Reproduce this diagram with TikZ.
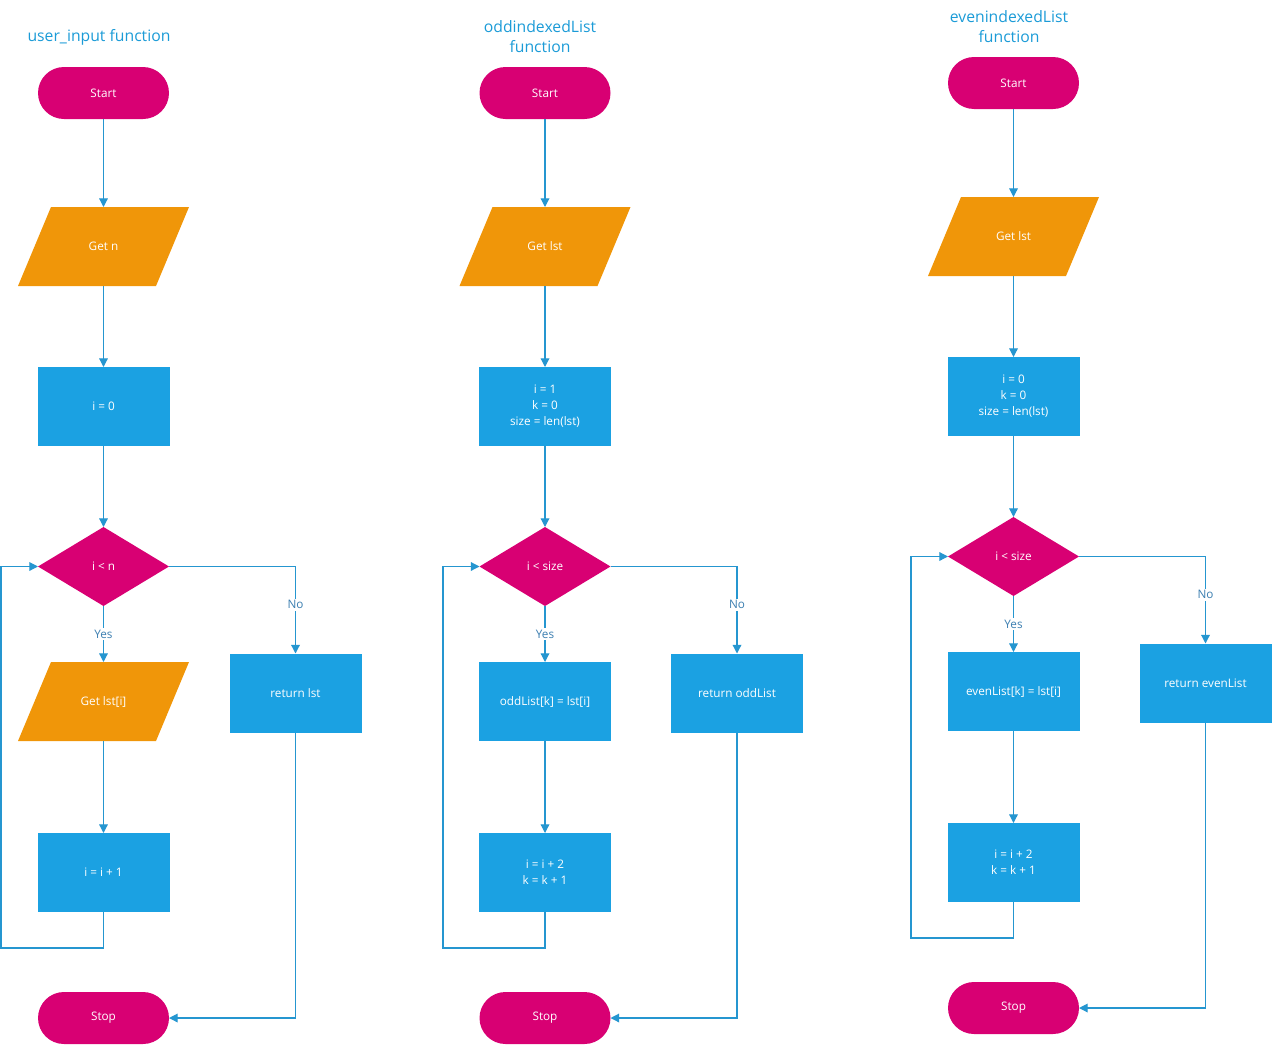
\documentclass[tikz,border=0pt]{standalone}
\usepackage{fontspec}
\setmainfont{Open Sans}
\usetikzlibrary{shapes.geometric,arrows.meta}
\definecolor{termcol}{HTML}{D80073}
\definecolor{iocol}{HTML}{F09609}
\definecolor{proccol}{HTML}{1BA1E2}
\definecolor{linecol}{HTML}{2596D0}
\definecolor{lblcol}{HTML}{3C7FB1}
\definecolor{titlecol}{HTML}{1B9BD7}
\tikzset{
  base/.style={inner sep=0pt, outer sep=0pt, text=white, font=\fontsize{8.8}{12}\selectfont, align=center},
  term/.style={base, fill=termcol, minimum width=98.25pt, minimum height=39pt, rounded corners=19.5pt},
  proc/.style={base, fill=proccol, minimum width=99pt, minimum height=59.25pt},
  dec/.style={base, diamond, fill=termcol, minimum width=98.25pt, minimum height=59.25pt},
  io/.style={base, minimum width=128.25pt, minimum height=59.25pt,
    path picture={\fill[iocol] ([xshift=24.75pt]path picture bounding box.north west)
      -- (path picture bounding box.north east)
      -- ([xshift=-24.75pt]path picture bounding box.south east)
      -- (path picture bounding box.south west) -- cycle;}},
  flow/.style={draw=linecol, line width=0.9pt, -{Triangle[length=6.5pt,width=6.5pt]}},
  lbl/.style={fill=white, text=lblcol, inner sep=1.5pt, font=\fontsize{8.8}{10}\selectfont},
  title/.style={text=titlecol, align=center, font=\fontsize{11.8}{15}\selectfont}
}
\begin{document}
\begin{tikzpicture}[x=0.75pt, y=-0.75pt]
\useasboundingbox (0,0) rectangle (1274,1046);

% ---------- user_input function ----------
\node[title] (t1) at (99,37) {user\_input function};
\node[term] (start1) at (103.5,93) {Start};
\node[io] (getn1) at (103.5,246.5) {Get n};
\node[proc] (init1) at (103.5,406.5) {i = 0};
\node[dec] (dec1) at (103.5,566.5) {i < n};
\node[io] (getl1) at (103.5,701.5) {Get lst[i]};
\node[proc] (inc1) at (103.5,872.5) {i = i + 1};
\node[term] (stop1) at (103.5,1018) {Stop};
\node[proc] (ret1) at (295.5,693) {return lst};
\coordinate (lp1) at (1,948);

\draw[flow] (start1) -- (getn1);
\draw[flow] (getn1) -- (init1);
\draw[flow] (init1) -- (dec1);
\draw[flow] (dec1) -- node[lbl]{Yes} (getl1);
\draw[flow] (getl1) -- (inc1);
\draw[flow] (inc1.south) |- (lp1) |- (dec1.west);
\draw[flow] (dec1.east) -| node[lbl, pos=0.72]{No} (ret1.north);
\draw[flow] (ret1.south) |- (stop1.east);

% ---------- oddindexedList function ----------
\node[title] (t2) at (540,37) {oddindexedList\\function};
\node[term] (start2) at (545,93) {Start};
\node[io] (getl2) at (545,246.5) {Get lst};
\node[proc] (init2) at (545,406.5) {i = 1\\k = 0\\size = len(lst)};
\node[dec] (dec2) at (545,566.5) {i < size};
\node[proc] (set2) at (545,701.5) {oddList[k] = lst[i]};
\node[proc] (inc2) at (545,872.5) {i = i + 2\\k = k + 1};
\node[term] (stop2) at (545,1018) {Stop};
\node[proc] (ret2) at (737,693) {return oddList};
\coordinate (lp2) at (443,948);

\draw[flow] (start2) -- (getl2);
\draw[flow] (getl2) -- (init2);
\draw[flow] (init2) -- (dec2);
\draw[flow] (dec2) -- node[lbl]{Yes} (set2);
\draw[flow] (set2) -- (inc2);
\draw[flow] (inc2.south) |- (lp2) |- (dec2.west);
\draw[flow] (dec2.east) -| node[lbl, pos=0.72]{No} (ret2.north);
\draw[flow] (ret2.south) |- (stop2.east);

% ---------- evenindexedList function ----------
\node[title] (t3) at (1009,27) {evenindexedList\\function};
\node[term] (start3) at (1013.5,83) {Start};
\node[io] (getl3) at (1013.5,236.5) {Get lst};
\node[proc] (init3) at (1013.5,396.5) {i = 0\\k = 0\\size = len(lst)};
\node[dec] (dec3) at (1013.5,556.5) {i < size};
\node[proc] (set3) at (1013.5,691.5) {evenList[k] = lst[i]};
\node[proc] (inc3) at (1013.5,862.5) {i = i + 2\\k = k + 1};
\node[term] (stop3) at (1013.5,1008) {Stop};
\node[proc] (ret3) at (1205.5,683) {return evenList};
\coordinate (lp3) at (911,938);

\draw[flow] (start3) -- (getl3);
\draw[flow] (getl3) -- (init3);
\draw[flow] (init3) -- (dec3);
\draw[flow] (dec3) -- node[lbl]{Yes} (set3);
\draw[flow] (set3) -- (inc3);
\draw[flow] (inc3.south) |- (lp3) |- (dec3.west);
\draw[flow] (dec3.east) -| node[lbl, pos=0.72]{No} (ret3.north);
\draw[flow] (ret3.south) |- (stop3.east);
\end{tikzpicture}
\end{document}
